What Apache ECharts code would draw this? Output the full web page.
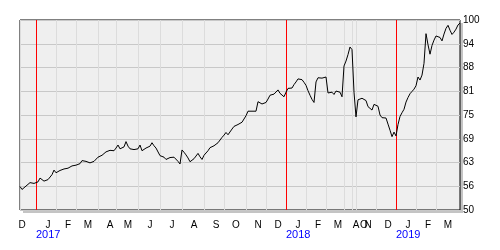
<!DOCTYPE html>
<html><head><meta charset="utf-8">
<script src="https://cdn.jsdelivr.net/npm/echarts@6/dist/echarts.min.js"></script>
<style>html,body{margin:0;padding:0;background:#fff}#c{width:500px;height:250px}</style>
</head><body><div id="c"></div>
<script>
// month keys and their axis letters
const monthKeys = ['2016-12','2017-01','2017-02','2017-03','2017-04','2017-05','2017-06','2017-07','2017-08','2017-09','2017-10','2017-11','2017-12','2018-01','2018-02','2018-03','2018-04','2018-10','2018-11','2018-12','2019-01','2019-02','2019-03'];
const monthLetters = ['D','J','F','M','A','M','J','J','A','S','O','N','D','J','F','M','A','O','N','D','J','F','M'];
const yearLabels = ['2017','2018','2019'];
const yTicks = [50, 56, 63, 69, 75, 81, 88, 94, 100];

// values (about every second trading day), per month
const dec2016 = [56.2,55.4,55.6,56.3,56.7,57.2,57.1,57.0];
const jan2017 = [56.9,57.4,58.4,58.0,57.6,57.5,58.0,58.4,59.3,60.5];
const feb2017 = [59.8,60.0,60.4,60.0,60.8,60.6,61.0,60.9,61.6,61.5];
const mar2017 = [61.8,62.3,62.2,63.0,63.3,62.8,63.0,62.4,61.9,62.8,63.2];
const apr2017 = [63.9,63.7,64.4,64.8,65.3,65.1,65.7,65.8,65.6];
const may2017 = [66.3,67.1,66.1,66.3,66.6,68.0,66.8,66.1,66.1,65.9,66.2];
const jun2017 = [66.1,67.1,65.6,65.2,66.3,66.0,66.8,67.7,66.9,66.3,65.9];
const jul2017 = [64.3,64.0,63.9,63.3,63.5,63.8,64.3,63.9,63.4,62.8,62.1];
const aug2017 = [65.8,65.2,64.5,63.7,62.7,63.2,63.5,64.2,64.9,64.0,63.3];
const sep2017 = [64.4,64.7,65.6,66.4,66.3,66.9,67.2,67.7,68.2,69.1];
const oct2017 = [69.7,70.4,69.8,70.2,71.3,72.0,72.1,72.5,72.8,73.1,73.3];
const nov2017 = [74.8,76.0,76.5,76.0,75.5,76.0,78.5,78.9,77.9,78.2];
const dec2017 = [78.3,79.2,80.2,80.0,80.5,80.8,81.6,80.7,81.1,79.8];
const jan2018 = [81.0,82.0,82.4,82.1,83.0,83.7,84.5,84.8,84.3,83.6];
const feb2018 = [82.8,81.4,80.2,79.1,78.3,83.7,84.8,84.8,84.7,85.0];
const mar2018 = [85.0,80.8,81.0,81.0,80.4,81.3,80.8,81.0,79.8];
const apr2018 = [87.9,89.2,90.9,92.9];
const oct2018 = [92.2,81.0];
const nov2018 = [74.5,79.0,78.9,79.4,79.0,78.8,77.2,77.0,76.3,77.8];
const dec2018 = [78.1,77.3,75.0,74.3,74.3,74.2,72.6,71.0,69.3,70.5];
const jan2019 = [69.5,72.5,74.6,75.6,76.5,78.4,79.6,80.6,81.2,81.8];
const feb2019 = [82.7,85.0,84.2,85.5,88.6,96.4,93.5,91.0,93.3,94.7];
const mar2019 = [95.8,95.6,95.4,94.5,96.3,97.8,98.6,97.3,96.2,96.8,97.6,98.7,99.2];

const monthValues = [dec2016,jan2017,feb2017,mar2017,apr2017,may2017,jun2017,jul2017,aug2017,sep2017,oct2017,nov2017,dec2017,jan2018,feb2018,mar2018,apr2018,oct2018,nov2018,dec2018,jan2019,feb2019,mar2019];

const cats = [], vals = [];
const monthStart = new Set(), labelAt = {}, yearAt = {}, yearStart = new Set();
let yi = 0;
monthKeys.forEach((k, m) => {
  const start = cats.length;
  monthStart.add(start);
  const off = m === 0 ? 1 : 6;
  labelAt[start + off] = monthLetters[m];
  if (k.endsWith('-01')) { yearStart.add(start); yearAt[start] = yearLabels[yi++]; }
  monthValues[m].forEach((v, j) => { cats.push(k + '#' + j); vals.push(v); });
});

const chart = echarts.init(document.getElementById('c'), null, {renderer: 'canvas'});
const narrow = "'Liberation Sans Narrow', 'Liberation Sans', Arial, sans-serif";
chart.setOption({
  animation: false,
  graphic: [{
    type: 'rect', z: -10, silent: true,
    shape: {x: 23, y: 23, width: 440, height: 190},
    style: {fill: '#c4c4c4'}
  }],
  grid: {
    left: 20, top: 20, width: 440, height: 190, show: true,
    backgroundColor: '#efefef', borderColor: '#000', borderWidth: 1
  },
  xAxis: [{
    type: 'category', data: cats, boundaryGap: false,
    axisLine: {show: false}, axisTick: {show: false},
    splitLine: {show: true, interval: (i) => monthStart.has(i), lineStyle: {color: '#dcdcdc', width: 1}},
    axisLabel: {interval: (i) => labelAt[i] !== undefined, formatter: (v, i) => labelAt[i] || '',
      color: '#000', fontSize: 10, fontFamily: narrow, margin: 10}
  }, {
    type: 'category', data: cats, boundaryGap: false, position: 'bottom',
    axisLine: {show: false}, axisTick: {show: false},
    splitLine: {show: true, interval: (i) => yearStart.has(i), lineStyle: {color: '#ff0000', width: 1}},
    axisLabel: {interval: (i) => yearAt[i] !== undefined, formatter: (v, i) => yearAt[i] || '',
      color: '#0000ff', fontSize: 11, fontFamily: "'Liberation Sans', Arial, sans-serif", margin: 19, align: 'left'}
  }],
  yAxis: {
    type: 'value', position: 'right', min: 50, max: 100, interval: 6.25,
    axisLine: {show: false}, axisTick: {show: false},
    splitLine: {show: true, lineStyle: {color: '#c8c8c8', width: 1}},
    axisLabel: {margin: 3, color: '#000', fontSize: 10, fontFamily: narrow,
      formatter: (v) => String(yTicks[Math.round((v - 50) / 6.25)])}
  },
  series: [{
    type: 'line', data: vals, xAxisIndex: 0, showSymbol: false, symbol: 'none',
    lineStyle: {color: '#000', width: 1}, z: 5
  }]
});
</script></body></html>
